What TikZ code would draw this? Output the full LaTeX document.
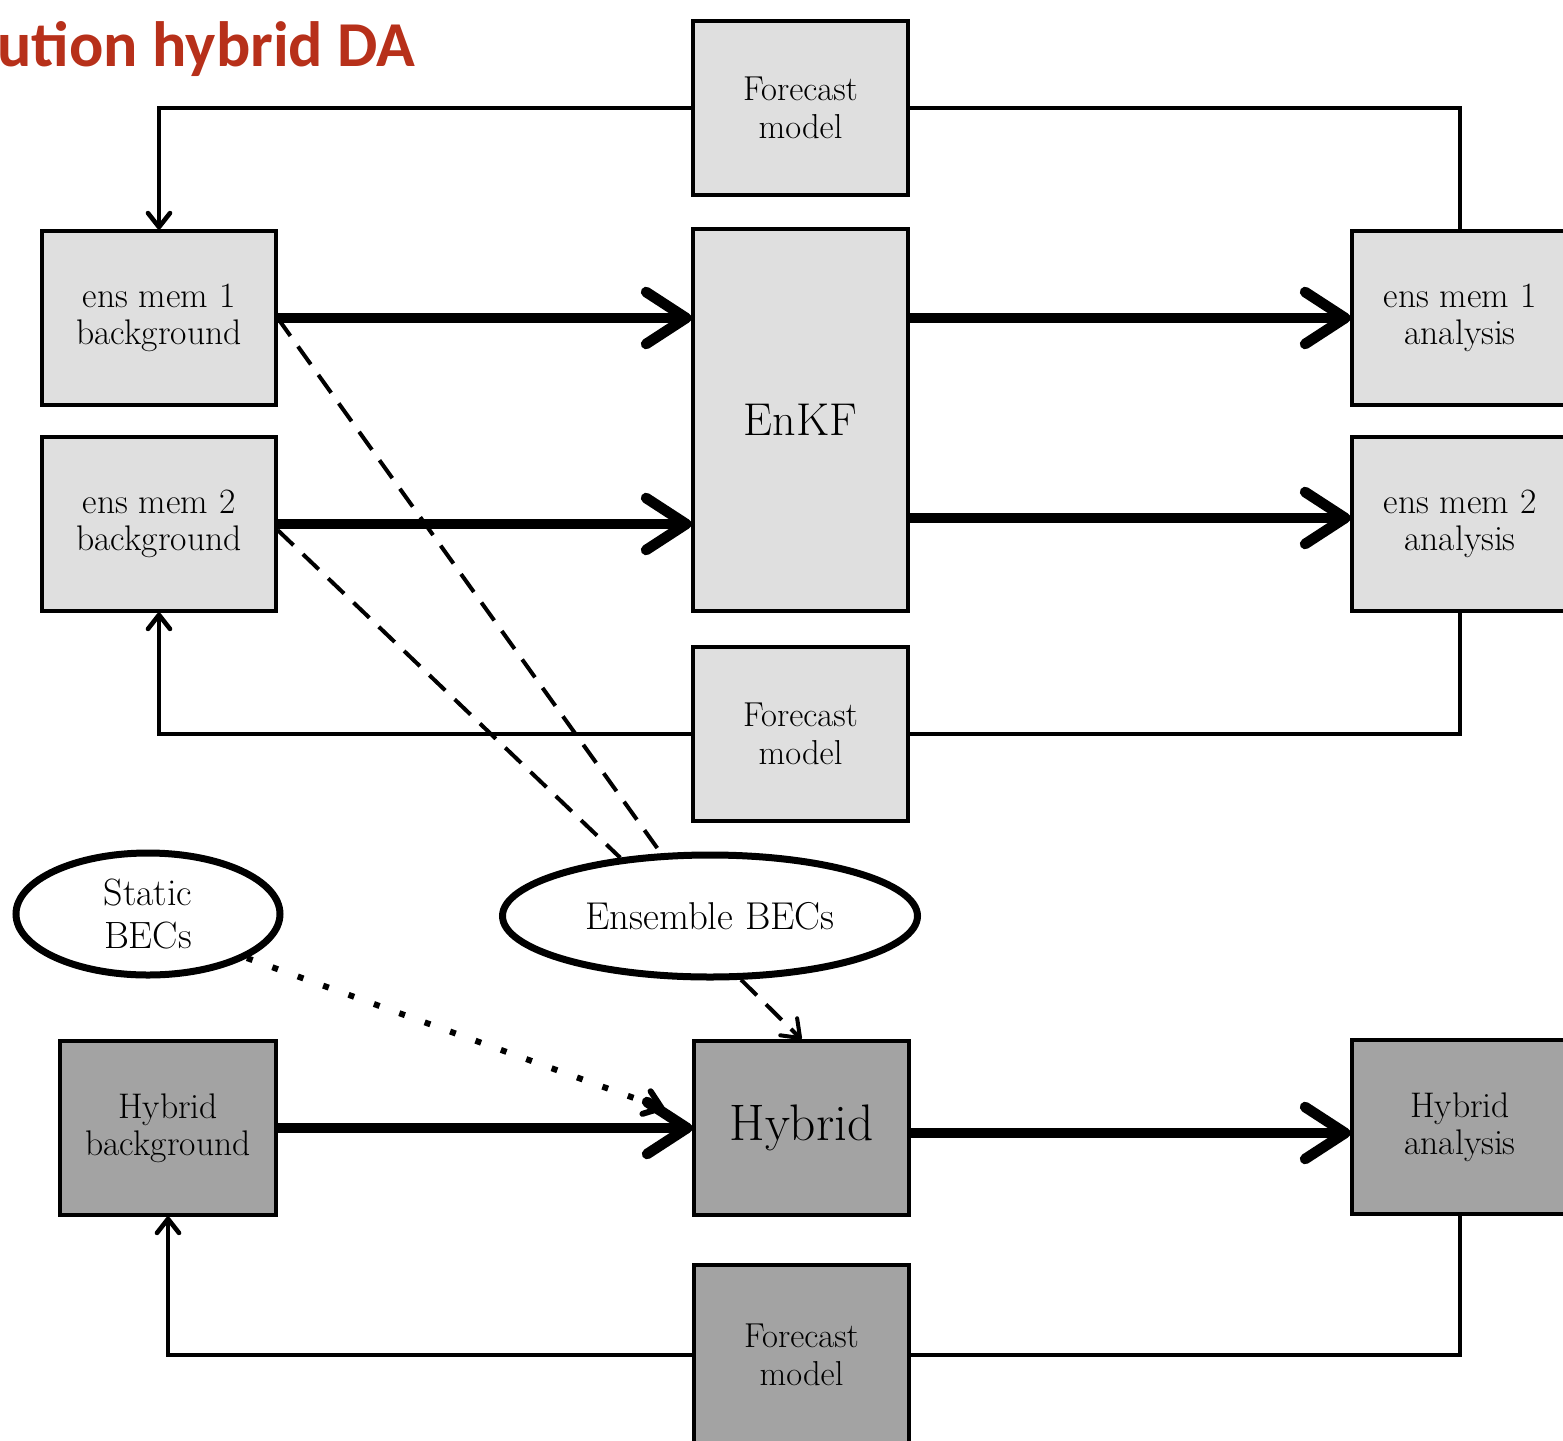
\documentclass[tikz,border=0pt]{standalone}
\usepackage{fontspec}
\newfontfamily\titlefont{Carlito}
\usetikzlibrary{arrows.meta,shapes.geometric,calc}
\definecolor{lightbox}{HTML}{DFDFDF}
\definecolor{darkbox}{HTML}{A3A3A3}
\definecolor{titlered}{HTML}{B7301A}
\begin{document}
\begin{tikzpicture}[x=0.5pt,y=-0.5pt,
  box/.style={draw,line width=1.6pt,fill=lightbox,inner sep=0pt,align=center,
    font=\fontsize{17.8}{18.5}\selectfont},
  dbox/.style={box,fill=darkbox},
  fmbox/.style={font=\fontsize{17.3}{18.8}\selectfont},
  ell/.style={draw,ellipse,line width=3.5pt,fill=white,inner sep=0pt,align=center},
  conn/.style={line width=2.3pt},
  conntip/.style={conn,-{Straight Barb[length=7pt,width=11pt,round]}},
  bigarrow/.style={line width=5.3pt,-{Straight Barb[length=20pt,width=26pt,round]}},
  dashline/.style={line width=2pt,dash pattern=on 11pt off 6.5pt},
  dotline/.style={line width=3pt,dash pattern=on 3pt off 10.5pt}
]
\useasboundingbox (0,0) rectangle (1563,1440);
% title
\node[anchor=base west,inner sep=0pt,text=titlered,
  font=\titlefont\bfseries\fontsize{32}{32}\selectfont] (title) at (-3,66) {ution hybrid DA};
% boxes
\node[box,fmbox,minimum width=107.5pt,minimum height=87pt] (fm1) at (800.5,108) {Forecast\\model};
\node[box,minimum width=117pt,minimum height=87pt] (b1) at (159,318) {ens mem 1\\background};
\node[box,minimum width=117pt,minimum height=87pt] (b2) at (159,524) {ens mem 2\\background};
\node[box,minimum width=107.5pt,minimum height=191pt,font=\fontsize{23}{26}\selectfont] (enkf) at (800.5,420) {EnKF};
\node[box,minimum width=108pt,minimum height=87pt] (a1) at (1460,318) {ens mem 1\\analysis};
\node[box,minimum width=108pt,minimum height=87pt] (a2) at (1460,524) {ens mem 2\\analysis};
\node[box,fmbox,minimum width=107.5pt,minimum height=87pt] (fm2) at (800.5,734) {Forecast\\model};
\node[ell,minimum width=132pt,minimum height=61pt,font=\fontsize{19}{21.5}\selectfont] (stat) at (148,914) {Static\\BECs};
\node[ell,minimum width=207.5pt,minimum height=61pt,font=\fontsize{19.4}{21}\selectfont] (ens) at (710,916) {Ensemble BECs};
\node[dbox,minimum width=108pt,minimum height=87pt] (hbg) at (168,1128) {Hybrid\\background};
\node[dbox,minimum width=107.5pt,minimum height=87pt,font=\fontsize{25.7}{28}\selectfont] (hyb) at (801.5,1128) {Hybrid};
\node[dbox,minimum width=108pt,minimum height=87pt] (ha) at (1460,1127) {Hybrid\\analysis};
\node[dbox,fmbox,minimum width=107.5pt,minimum height=90pt] (fm3) at (801.5,1355) {Forecast\\model};
% forecast loops
\draw[conntip] (fm1.west) -| (b1.north);
\draw[conn] (fm1.east) -| (a1.north);
\draw[conntip] (fm2.west) -| (b2.south);
\draw[conn] (fm2.east) -| (a2.south);
\draw[conntip] (fm3.west) -| (hbg.south);
\draw[conn] (fm3.east) -| (ha.south);
% main flow
\draw[bigarrow] (b1.east) -- (b1.east -| enkf.west);
\draw[bigarrow] (b2.east) -- (b2.east -| enkf.west);
\draw[bigarrow] (enkf.east |- a1.west) -- (a1.west);
\draw[bigarrow] ($(enkf.east |- a2.west)+(0,-6)$) -- ($(a2.west)+(0,-6)$);
\draw[bigarrow] (hbg.east) -- (hyb.west);
\draw[bigarrow] ($(hyb.east)+(0,5)$) -- ($(ha.west)+(0,6)$);
% covariance links
\draw[dashline] (b1.east) -- (ens.128);
\draw[dashline] ($(b2.east)+(0,6)$) -- (ens.147);
\draw[dashline,-{Straight Barb[length=8pt,width=12pt,round]}] (ens.-64) -- (hyb.north);
\coordinate (dotend) at ($(hyb.west)+(-28,-19)$);
\draw[dotline,-{Straight Barb[length=8pt,width=12pt,round]}] (stat.-24) -- (dotend);
\end{tikzpicture}
\end{document}
